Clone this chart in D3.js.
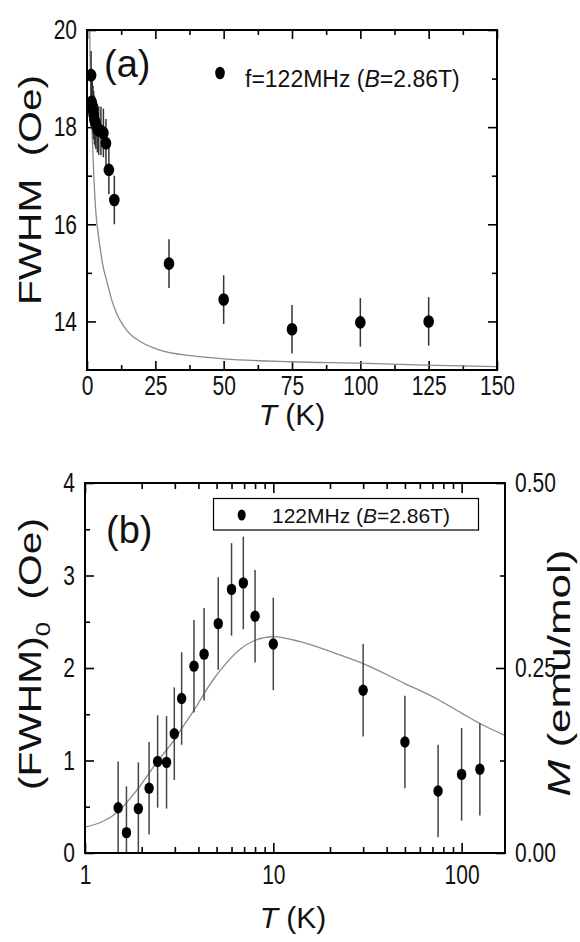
<!DOCTYPE html>
<html><head><meta charset="utf-8">
<script src="https://cdn.jsdelivr.net/npm/d3@7/dist/d3.min.js"></script>
<style>
body{margin:0;background:#fff;}
svg{display:block;font-family:"Liberation Sans",Arial,sans-serif;}
</style></head><body>
<svg id="c" width="580" height="942"></svg>
<script>
// ---------------- data ----------------
const temps   = [1.5, 1.66, 1.92, 2.19, 2.43, 2.71, 2.98, 3.26, 3.79, 4.29, 5.1, 6.0, 6.93, 8.0, 10, 30, 50, 75, 100, 125];
const fwhmA   = [19.07, 18.52, 18.45, 18.35, 18.25, 18.15, 18.1, 18.05, 17.98, 17.93, 17.92, 17.88, 17.67, 17.12, 16.5, 15.19, 14.45, 13.84, 13.98, 14.0];
const errA    = [0.5, 0.5, 0.5, 0.5, 0.5, 0.5, 0.5, 0.5, 0.5, 0.5, 0.5, 0.5, 0.5, 0.5, 0.5, 0.5, 0.5, 0.5, 0.5, 0.5];
const fwhm0B  = [0.49, 0.22, 0.48, 0.70, 0.99, 0.98, 1.29, 1.67, 2.02, 2.15, 2.48, 2.85, 2.92, 2.56, 2.26, 1.76, 1.20, 0.67, 0.85, 0.905];
const errB    = [0.5, 0.5, 0.5, 0.5, 0.5, 0.5, 0.5, 0.5, 0.5, 0.5, 0.5, 0.5, 0.5, 0.5, 0.5, 0.5, 0.5, 0.5, 0.5, 0.5];
const curveAT = [1.0, 1.1, 1.5, 2, 2.5, 3.3, 4, 4.75, 6, 7.2, 9, 10.9, 14.5, 20.6, 26.7, 38.9, 50, 75, 100, 124, 150];
const curveAY = [20.0, 19.56, 18.6, 17.7, 17.0, 16.2, 15.85, 15.53, 15.1, 14.84, 14.45, 14.16, 13.82, 13.55, 13.41, 13.29, 13.23, 13.17, 13.14, 13.10, 13.07];
const curveBT = [1, 1.5, 1.92, 2.43, 2.98, 3.46, 3.84, 4.28, 4.9, 5.2, 6.64, 8, 10, 13.9, 20, 30, 50, 75, 100, 125, 170];
const curveBM = [0.035, 0.056, 0.0875, 0.124, 0.153, 0.178, 0.195, 0.215, 0.2375, 0.246, 0.275, 0.2875, 0.2925, 0.2855, 0.2725, 0.256, 0.229, 0.2075, 0.189, 0.175, 0.159];
const xMajorA = [0, 25, 50, 75, 100, 125, 150];
const xMinorA = [12.5, 37.5, 62.5, 87.5, 112.5, 137.5];
const yMajorA = [14, 16, 18, 20];
const yMinorA = [15, 17, 19];
const xMajorB = [1, 10, 100];
const xMinorB = [2, 3, 4, 5, 6, 7, 8, 9, 20, 30, 40, 50, 60, 70, 80, 90];
const yMajorB = [0, 1, 2, 3, 4];
const yMinorB = [0.5, 1.5, 2.5, 3.5];
const mMajorB = [0, 0.25, 0.5];
const mMinorB = [0.125, 0.375];

// ---------------- drawing ----------------
const svg = d3.select('#c');
const INK = '#111';
const FONT_TICK = 21, SY = 1.28;

function stretch(sel, sy){
  sel.style('transform-box','fill-box').style('transform-origin','center').style('transform',`scaleY(${sy})`);
}
function tickAxis(g, axisFn, scale, values, len){
  g.call(axisFn(scale).tickValues(values).tickSize(-len).tickFormat(''));
  g.select('.domain').remove();
  g.selectAll('line').attr('stroke','#000').attr('stroke-width',1.6);
}
function labelAxis(g, axisFn, scale, values, pad, fmt){
  g.call(axisFn(scale).tickValues(values).tickSize(0).tickPadding(pad).tickFormat(fmt));
  g.select('.domain').remove();
  g.selectAll('text').attr('fill',INK).attr('font-size',FONT_TICK).attr('font-family','"Liberation Sans",Arial,sans-serif').call(stretch, SY);
}

// ===== Panel (a) =====
const A = {l:87, r:497, t:30, b:370};
const xA = d3.scaleLinear().domain([0,150]).range([A.l, A.r]);
const yA = d3.scaleLinear().domain([13,20]).range([A.b, A.t]);
const gA = svg.append('g');
gA.append('clipPath').attr('id','clipA').append('rect').attr('x',A.l).attr('y',A.t).attr('width',A.r-A.l).attr('height',A.b-A.t);

tickAxis(gA.append('g').attr('transform',`translate(0,${A.b})`), d3.axisBottom, xA, xMajorA, 9);
tickAxis(gA.append('g').attr('transform',`translate(0,${A.b})`), d3.axisBottom, xA, xMinorA, 5);
tickAxis(gA.append('g').attr('transform',`translate(0,${A.t})`), d3.axisTop, xA, xMajorA, 9);
tickAxis(gA.append('g').attr('transform',`translate(0,${A.t})`), d3.axisTop, xA, xMinorA, 5);
tickAxis(gA.append('g').attr('transform',`translate(${A.l},0)`), d3.axisLeft, yA, yMajorA, 9);
tickAxis(gA.append('g').attr('transform',`translate(${A.l},0)`), d3.axisLeft, yA, yMinorA, 5);
tickAxis(gA.append('g').attr('transform',`translate(${A.r},0)`), d3.axisRight, yA, yMajorA, 9);
tickAxis(gA.append('g').attr('transform',`translate(${A.r},0)`), d3.axisRight, yA, yMinorA, 5);
labelAxis(gA.append('g').attr('transform',`translate(0,${A.b})`), d3.axisBottom, xA, xMajorA, 8, d3.format('d'));
labelAxis(gA.append('g').attr('transform',`translate(${A.l},0)`), d3.axisLeft, yA, yMajorA, 10, d3.format('d'));

const pA = gA.append('g').attr('clip-path','url(#clipA)');
pA.append('path').datum(curveAT.map((t,i)=>[t,curveAY[i]]))
  .attr('fill','none').attr('stroke','#8a8a8a').attr('stroke-width',1.3)
  .attr('d', d3.line().x(d=>xA(d[0])).y(d=>yA(d[1])).curve(d3.curveMonotoneX));
pA.selectAll('line.eb').data(temps).join('line').attr('class','eb')
  .attr('x1',(d)=>xA(d)).attr('x2',(d)=>xA(d))
  .attr('y1',(d,i)=>yA(fwhmA[i]-errA[i])).attr('y2',(d,i)=>yA(fwhmA[i]+errA[i]))
  .attr('stroke','#333').attr('stroke-width',1.5);
pA.selectAll('ellipse').data(temps).join('ellipse')
  .attr('cx',d=>xA(d)).attr('cy',(d,i)=>yA(fwhmA[i])).attr('rx',5.3).attr('ry',6.3).attr('fill','#000');

gA.append('rect').attr('x',A.l).attr('y',A.t).attr('width',A.r-A.l).attr('height',A.b-A.t)
  .attr('fill','none').attr('stroke','#000').attr('stroke-width',2);

gA.append('text').attr('x',104).attr('y',77).attr('font-size',38).attr('fill',INK).text('(a)');
gA.append('ellipse').attr('cx',220).attr('cy',73).attr('rx',4.8).attr('ry',6.3).attr('fill','#000');
const legA = gA.append('text').attr('x',245).attr('y',86.5).attr('font-size',23).attr('fill',INK);
legA.append('tspan').text('f=122MHz (');
legA.append('tspan').attr('font-style','italic').text('B');
legA.append('tspan').text('=2.86T)');

const tA = gA.append('text').attr('x',292).attr('y',425).attr('text-anchor','middle').attr('font-size',30).attr('fill',INK);
tA.append('tspan').attr('font-style','italic').text('T');
tA.append('tspan').text(' (K)');

gA.append('text').attr('transform','translate(41,190) rotate(-90)').attr('text-anchor','middle')
  .attr('font-size',32).attr('fill',INK).style('white-space','pre')
  .attr('textLength',230).attr('lengthAdjust','spacingAndGlyphs').text('FWHM  (Oe)');

// ===== Panel (b) =====
const B = {l:85, r:505, t:483, b:853};
const xB = d3.scaleLog().domain([1,170]).range([B.l, B.r]);
const yB = d3.scaleLinear().domain([0,4]).range([B.b, B.t]);
const mB = d3.scaleLinear().domain([0,0.5]).range([B.b, B.t]);
const gB = svg.append('g');
gB.append('clipPath').attr('id','clipB').append('rect').attr('x',B.l).attr('y',B.t).attr('width',B.r-B.l).attr('height',B.b-B.t);

tickAxis(gB.append('g').attr('transform',`translate(0,${B.b})`), d3.axisBottom, xB, xMajorB, 10);
tickAxis(gB.append('g').attr('transform',`translate(0,${B.b})`), d3.axisBottom, xB, xMinorB, 6);
tickAxis(gB.append('g').attr('transform',`translate(0,${B.t})`), d3.axisTop, xB, xMajorB, 10);
tickAxis(gB.append('g').attr('transform',`translate(0,${B.t})`), d3.axisTop, xB, xMinorB, 6);
tickAxis(gB.append('g').attr('transform',`translate(${B.l},0)`), d3.axisLeft, yB, yMajorB, 9);
tickAxis(gB.append('g').attr('transform',`translate(${B.l},0)`), d3.axisLeft, yB, yMinorB, 5);
tickAxis(gB.append('g').attr('transform',`translate(${B.r},0)`), d3.axisRight, mB, mMajorB, 9);
tickAxis(gB.append('g').attr('transform',`translate(${B.r},0)`), d3.axisRight, mB, mMinorB, 5);
labelAxis(gB.append('g').attr('transform',`translate(0,${B.b})`), d3.axisBottom, xB, xMajorB, 14, d3.format('d'));
labelAxis(gB.append('g').attr('transform',`translate(${B.l},0)`), d3.axisLeft, yB, yMajorB, 10, d3.format('d'));
labelAxis(gB.append('g').attr('transform',`translate(${B.r},0)`), d3.axisRight, mB, mMajorB, 10, d3.format('.2f'));

const pB = gB.append('g').attr('clip-path','url(#clipB)');
pB.append('path').datum(curveBT.map((t,i)=>[t,curveBM[i]]))
  .attr('fill','none').attr('stroke','#8a8a8a').attr('stroke-width',1.3)
  .attr('d', d3.line().x(d=>xB(d[0])).y(d=>mB(d[1])).curve(d3.curveMonotoneX));
pB.selectAll('line.eb').data(temps).join('line').attr('class','eb')
  .attr('x1',d=>xB(d)).attr('x2',d=>xB(d))
  .attr('y1',(d,i)=>yB(fwhm0B[i]-errB[i])).attr('y2',(d,i)=>yB(fwhm0B[i]+errB[i]))
  .attr('stroke','#444').attr('stroke-width',1.5);
pB.selectAll('ellipse').data(temps).join('ellipse')
  .attr('cx',d=>xB(d)).attr('cy',(d,i)=>yB(fwhm0B[i])).attr('rx',4.7).attr('ry',5.7).attr('fill','#000');

gB.append('rect').attr('x',B.l).attr('y',B.t).attr('width',B.r-B.l).attr('height',B.b-B.t)
  .attr('fill','none').attr('stroke','#000').attr('stroke-width',2);

gB.append('text').attr('x',106).attr('y',543).attr('font-size',38).attr('fill',INK).text('(b)');
gB.append('rect').attr('x',213.5).attr('y',498.5).attr('width',265).attr('height',31.5)
  .attr('fill','#fff').attr('stroke','#000').attr('stroke-width',1.2);
gB.append('ellipse').attr('cx',241.7).attr('cy',515).attr('rx',4).attr('ry',5.5).attr('fill','#000');
const legB = gB.append('text').attr('x',272).attr('y',523).attr('font-size',21).attr('fill',INK);
legB.append('tspan').text('122MHz (');
legB.append('tspan').attr('font-style','italic').text('B');
legB.append('tspan').text('=2.86T)');

const tB = gB.append('text').attr('x',293).attr('y',928).attr('text-anchor','middle').attr('font-size',30).attr('fill',INK);
tB.append('tspan').attr('font-style','italic').text('T');
tB.append('tspan').text(' (K)');

const yT = gB.append('text').attr('transform','translate(41,654) rotate(-90)').attr('text-anchor','middle')
  .attr('font-size',32).attr('fill',INK).style('white-space','pre')
  .attr('textLength',272).attr('lengthAdjust','spacingAndGlyphs');
yT.append('tspan').text('(FWHM)');
yT.append('tspan').attr('font-size',20).attr('dy',9).text('0');
yT.append('tspan').attr('dy',-9).text('  (Oe)');

const rT = gB.append('text').attr('transform','translate(570,673) rotate(-90)').attr('text-anchor','middle')
  .attr('font-size',31).attr('fill',INK).style('white-space','pre')
  .attr('textLength',247).attr('lengthAdjust','spacingAndGlyphs');
rT.append('tspan').attr('font-style','italic').text('M');
rT.append('tspan').text(' (emu/mol)');
</script>
</body></html>
